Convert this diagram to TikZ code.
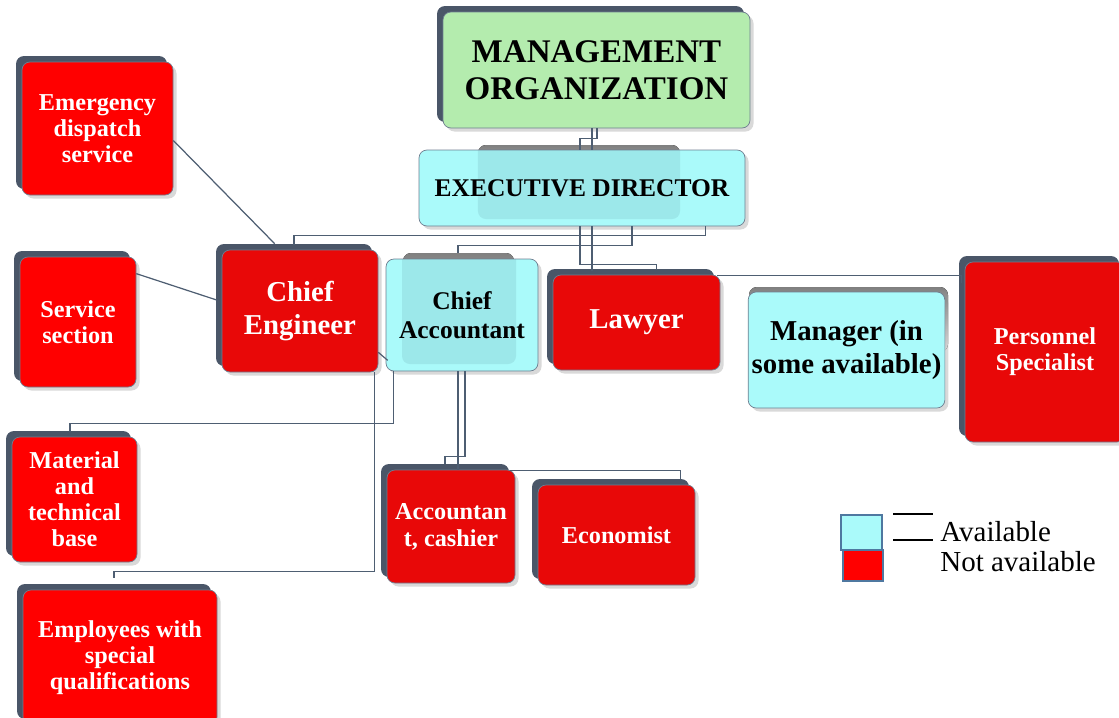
\documentclass[tikz,border=0pt]{standalone}
\usepackage{fontspec}
\setmainfont{Liberation Serif}
\usetikzlibrary{calc,shadows}
\definecolor{redA}{HTML}{FF0000}
\definecolor{redB}{HTML}{E80808}
\definecolor{aqua}{HTML}{AAFAFA}
\definecolor{aquadeep}{HTML}{9CE8EA}
\definecolor{mint}{HTML}{B4ECAE}
\definecolor{shade}{HTML}{4A5668}
\definecolor{edge}{HTML}{6E7E90}
\definecolor{wire}{HTML}{4E5E72}
\definecolor{keyedge}{HTML}{4F78A0}
\tikzset{
  unit/.style 2 args={minimum width=#1*0.02cm, minimum height=#2*0.02cm},
  card/.style={rounded corners=0.16cm, draw=edge, line width=0.4pt, inner sep=2pt, align=center,
    font=\bfseries\fontsize{13.8}{14.8}\selectfont,
    drop shadow={shadow xshift=0.07cm, shadow yshift=-0.07cm, opacity=0.3}},
  backing/.style={general shadow={fill=shade, shadow xshift=-0.12cm, shadow yshift=0.12cm}},
  nored/.style={card, backing, fill=redB, text=white},
  nobright/.style={card, backing, fill=redA, text=white},
  yes/.style={card, fill=aqua, text=black},
  big/.style={font=\bfseries\fontsize{16.4}{18.7}\selectfont},
  tint/.style 2 args={path picture={\fill[aquadeep, rounded corners=0.16cm]
    ($(path picture bounding box.north west)+(#1,0.2cm)$) rectangle
    ($(path picture bounding box.south east)+(-#2,0.14cm)$);}},
  link/.style={draw=wire, line width=0.7pt},
  keyline/.style={draw=black, line width=0.8pt},
  keytext/.style={anchor=west, inner sep=0pt, font=\fontsize{16.5}{18}\selectfont},
}
\begin{document}
\begin{tikzpicture}[x=0.02cm, y=-0.02cm]
  \useasboundingbox (0,0) rectangle (1119,717);
  % top levels
  \node[card, backing, fill=mint, unit={307}{116}, font=\bfseries\fontsize{18.8}{21}\selectfont]
    (mgmt) at (596.5,70) {MANAGEMENT\\ORGANIZATION};
  \fill[shade, rounded corners=0.16cm] (478,145) rectangle (680,220);
  \node[yes, tint={1.18cm}{1.3cm}, unit={326}{76}, font=\bfseries\fontsize{14.5}{16}\selectfont]
    (exec) at (582,188) {EXECUTIVE DIRECTOR};
  % second row
  \node[nored, big, unit={156}{122}] (eng) at (300,311) {Chief\\Engineer};
  \fill[shade, rounded corners=0.16cm] (403,253) rectangle (514,362);
  \node[yes, tint={0.32cm}{0.44cm}, unit={152}{112}, font=\bfseries\fontsize{14.5}{16.5}\selectfont]
    (chacc) at (462,315) {Chief\\Accountant};
  \node[nored, big, unit={167}{95}] (law) at (636.5,322.5) {Lawyer};
  \fill[shade, rounded corners=0.16cm] (749,287) rectangle (948,352);
  \node[yes, big, unit={195}{116}] (mngr) at (846.5,350) {Manager (in\\some available)};
  \node[nored, unit={160}{180}] (pers) at (1045,352) {Personnel\\Specialist};
  % left column
  \node[nobright, unit={151}{133}] (emer) at (97.5,128.5) {Emergency\\dispatch\\service};
  \node[nobright, unit={116}{130}] (serv) at (78,322) {Service\\section};
  \node[nobright, unit={125}{125}] (mat) at (74.5,499.5) {Material\\and\\technical\\base};
  \node[nobright, unit={194}{135}] (empl) at (120,657.5) {Employees with\\special\\qualifications};
  % under the accountant
  \node[nored, unit={128}{113}, font=\bfseries\fontsize{13.8}{15.3}\selectfont]
    (acct) at (451,526.5) {Accountan\\t, cashier};
  \node[nored, unit={157}{100}] (econ) at (616.5,535) {Economist};
  % legend
  \node[draw=keyedge, line width=1.2pt, fill=redA, unit={40}{31}, inner sep=0pt] (keyna) at (863,565.5) {};
  \node[draw=keyedge, line width=1.2pt, fill=aqua, unit={41}{35}, inner sep=0pt] (keyav) at (861.5,532.5) {};
  \draw[keyline] ($(keyav.north east)+(10,0)$) -- ++(40,0);
  \draw[keyline] ($(keyav.north east)+(10,26)$) -- ++(40,0);
  \node[keytext] (txtav) at (940,532) {Available};
  \node[keytext] (txtna) at (940,562) {Not available};
  % connectors
  \draw[link] ($(mgmt.south)+(0.5,0)$) -- ++(0,10) -| ($(exec.north)+(-2,0)$);
  \draw[link] ($(mgmt.south)+(-4.5,0)$) -- ($(exec.north)+(10,0)$);
  \draw[link] ($(exec.south east)+(-40,0)$) |- ($(eng.north)+(-6,-14)$) -- ($(eng.north)+(-6,-5)$);
  \draw[link] ($(exec.south)+(50,0)$) |- ($(chacc.north)+(-4,-13)$) -- ($(chacc.north)+(-4,-6)$);
  \draw[link] ($(exec.south)+(-2,0)$) |- ($(law.north)+(20,-10)$) -- ($(law.north)+(20,-5)$);
  \draw[link] ($(exec.south)+(10,0)$) -- ($(law.north)+(-44.5,-4)$);
  \draw[link] ($(law.north east)+(-3,1)$) -| ($(pers.north west)+(-3,21)$);
  \draw[link] ($(emer.east)+(0,12)$) -- ($(eng.north west)+(53,-6)$);
  \draw[link] ($(serv.north east)+(0,17)$) -- ($(eng.west)+(-5,-11)$);
  \draw[link] ($(eng.south east)+(0,-20)$) -- ($(chacc.south west)+(2,-11)$);
  \draw[link] ($(chacc.south west)+(8,0)$) |- ($(mat.north)+(-4.5,-13)$) -- ($(mat.north)+(-4.5,-5)$);
  \draw[link] ($(eng.south east)+(-4,0)$) |- ($(empl.north)+(-6,-18)$) -- ($(empl.north)+(-6,-12)$);
  \draw[link] ($(chacc.south)+(3,0)$) |- ($(acct.north)+(-6,-13)$) -- ($(acct.north)+(-6,-6)$);
  \draw[link] ($(chacc.south)+(-4,0)$) -- ($(acct.north)+(7,0)$);
  \draw[link] ($(acct.north east)+(-5,1)$) -| ($(econ.north east)+(-15,-6)$);
\end{tikzpicture}
\end{document}
